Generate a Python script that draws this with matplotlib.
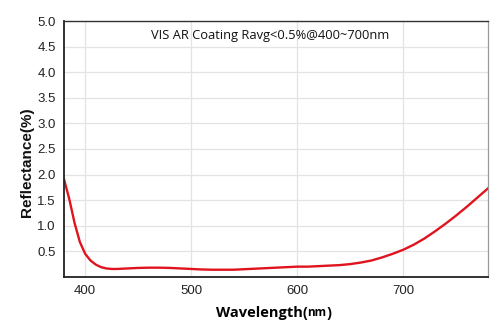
import matplotlib
matplotlib.use("Agg")
import matplotlib.pyplot as plt

wavelength = [380, 385, 390, 395, 400, 405, 410, 415, 420, 425, 430, 440, 450, 460, 470, 480, 490,
              500, 510, 520, 530, 540, 550, 560, 570, 580, 590, 600, 610, 620, 630, 640,
              650, 660, 670, 680, 690, 700, 710, 720, 730, 740, 750, 760, 770, 780]
reflectance = [1.91, 1.52, 1.05, 0.68, 0.45, 0.32, 0.24, 0.19, 0.165, 0.155, 0.155, 0.165, 0.175, 0.18, 0.18, 0.175, 0.165,
               0.155, 0.145, 0.14, 0.14, 0.14, 0.15, 0.16, 0.17, 0.18, 0.19, 0.20, 0.20, 0.21, 0.22, 0.23,
               0.25, 0.28, 0.32, 0.38, 0.45, 0.53, 0.63, 0.75, 0.89, 1.04, 1.20, 1.37, 1.55, 1.73]

x_ticks = [400, 500, 600, 700]
y_ticks = [0.5, 1.0, 1.5, 2.0, 2.5, 3.0, 3.5, 4.0, 4.5, 5.0]

fig = plt.figure(figsize=(5.0, 3.34), dpi=100)
ax = fig.add_axes([0.128, 0.171, 0.848, 0.766])
ax.plot(wavelength, reflectance, color="#e0141e", lw=1.7)
ax.set_xlim(380, 780)
ax.set_ylim(0, 5)
ax.set_xticks(x_ticks)
ax.set_yticks(y_ticks)
ax.set_yticklabels([f"{v:.1f}" for v in y_ticks])
ax.grid(True, color="#e3e3e3", lw=0.9)
ax.set_axisbelow(True)
ax.tick_params(length=0, labelsize=9.5, pad=6, colors="#222222")
for lab in ax.get_xticklabels() + ax.get_yticklabels():
    lab.set_family("Liberation Sans")
for s in ["left", "bottom"]:
    ax.spines[s].set_color("#222222")
    ax.spines[s].set_linewidth(1.3)
ax.spines["top"].set_color("#333333")
ax.spines["top"].set_linewidth(1.0)
ax.spines["right"].set_color("#999999")
ax.spines["right"].set_linewidth(0.9)

ax.text(0.487, 0.945, "VIS AR Coating Ravg<0.5%@400~700nm", transform=ax.transAxes,
        ha="center", va="center", fontsize=9.3, family="Open Sans", color="#111111")
fig.text(0.054, 0.515, "Reflectance(%)", rotation=90, fontsize=11, fontweight="bold",
         family="Liberation Sans", ha="center", va="center", color="#111111")
fig.text(0.615, 0.063, "Wavelength(", fontsize=10.5, fontweight="bold", family="Open Sans", ha="right", va="center")
t = fig.text(0.615, 0.063, "nm", fontsize=8.5, fontweight="bold", family="Open Sans", ha="left", va="center")
fig.canvas.draw()
bb = t.get_window_extent()
fig.text(bb.x1 / fig.bbox.width, 0.063, ")", fontsize=10.5, fontweight="bold", family="Open Sans", ha="left", va="center")

fig.savefig("out.png", dpi=100)
